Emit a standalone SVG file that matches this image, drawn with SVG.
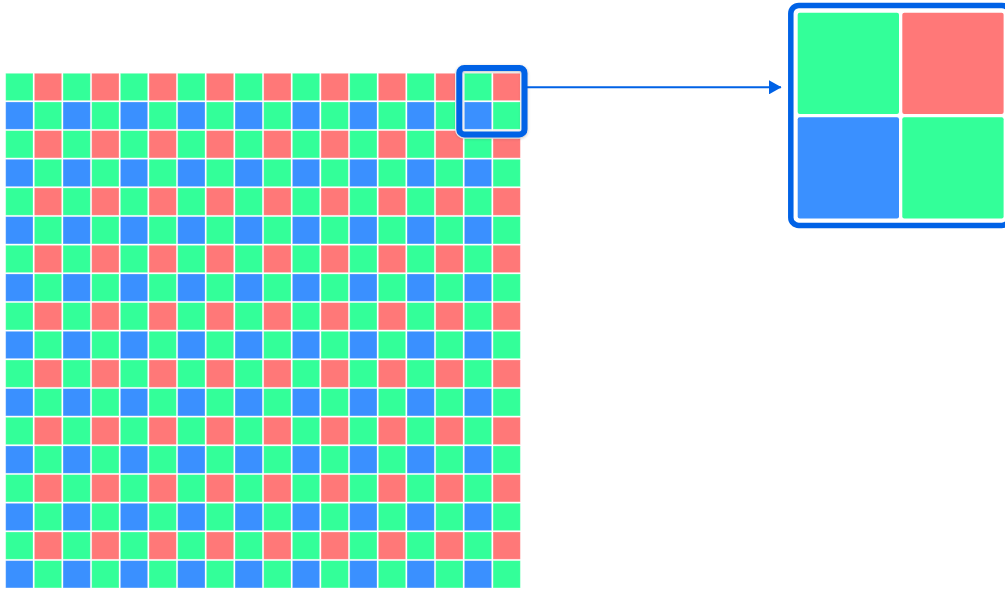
<svg xmlns="http://www.w3.org/2000/svg" xmlns:xlink="http://www.w3.org/1999/xlink" width="1005" height="589" viewBox="0 0 1005 589">
<style>
.g{fill:#33FF99}
.r{fill:#FF7878}
.b{fill:#3A90FF}
.c{stroke:#ffffff;stroke-opacity:0.35;stroke-width:0.8}
.frame{fill:none;stroke:#0062E6;stroke-width:5.5}
.hl{fill:none;stroke:#0062E6;stroke-width:6}
.link{fill:none;stroke:#0062E6;stroke-width:2}
</style>
<defs>
<g id="t">
<rect class="g c" x="0" y="0" width="27.3" height="27.3"/>
<rect class="r c" x="28.67" y="0" width="27.3" height="27.3"/>
<rect class="b c" x="0" y="28.67" width="27.3" height="27.3"/>
<rect class="g c" x="28.67" y="28.67" width="27.3" height="27.3"/>
</g>
<marker id="ah" markerUnits="userSpaceOnUse" markerWidth="13" markerHeight="14" refX="12" refY="7" orient="auto">
<path d="M0,0 L12.5,7 L0,14 Z" fill="#0062E6"/>
</marker>
<filter id="sh" x="-20%" y="-20%" width="140%" height="140%">
<feDropShadow dx="0" dy="1" stdDeviation="1.5" flood-color="#333333" flood-opacity="0.3"/>
</filter>
</defs>
<g id="grid">
<use href="#t" x="5.7" y="73.3"/><use href="#t" x="63.03" y="73.3"/><use href="#t" x="120.37" y="73.3"/><use href="#t" x="177.7" y="73.3"/><use href="#t" x="235.03" y="73.3"/><use href="#t" x="292.37" y="73.3"/><use href="#t" x="349.7" y="73.3"/><use href="#t" x="407.03" y="73.3"/><use href="#t" x="464.37" y="73.3"/>
<use href="#t" x="5.7" y="130.63"/><use href="#t" x="63.03" y="130.63"/><use href="#t" x="120.37" y="130.63"/><use href="#t" x="177.7" y="130.63"/><use href="#t" x="235.03" y="130.63"/><use href="#t" x="292.37" y="130.63"/><use href="#t" x="349.7" y="130.63"/><use href="#t" x="407.03" y="130.63"/><use href="#t" x="464.37" y="130.63"/>
<use href="#t" x="5.7" y="187.97"/><use href="#t" x="63.03" y="187.97"/><use href="#t" x="120.37" y="187.97"/><use href="#t" x="177.7" y="187.97"/><use href="#t" x="235.03" y="187.97"/><use href="#t" x="292.37" y="187.97"/><use href="#t" x="349.7" y="187.97"/><use href="#t" x="407.03" y="187.97"/><use href="#t" x="464.37" y="187.97"/>
<use href="#t" x="5.7" y="245.3"/><use href="#t" x="63.03" y="245.3"/><use href="#t" x="120.37" y="245.3"/><use href="#t" x="177.7" y="245.3"/><use href="#t" x="235.03" y="245.3"/><use href="#t" x="292.37" y="245.3"/><use href="#t" x="349.7" y="245.3"/><use href="#t" x="407.03" y="245.3"/><use href="#t" x="464.37" y="245.3"/>
<use href="#t" x="5.7" y="302.63"/><use href="#t" x="63.03" y="302.63"/><use href="#t" x="120.37" y="302.63"/><use href="#t" x="177.7" y="302.63"/><use href="#t" x="235.03" y="302.63"/><use href="#t" x="292.37" y="302.63"/><use href="#t" x="349.7" y="302.63"/><use href="#t" x="407.03" y="302.63"/><use href="#t" x="464.37" y="302.63"/>
<use href="#t" x="5.7" y="359.97"/><use href="#t" x="63.03" y="359.97"/><use href="#t" x="120.37" y="359.97"/><use href="#t" x="177.7" y="359.97"/><use href="#t" x="235.03" y="359.97"/><use href="#t" x="292.37" y="359.97"/><use href="#t" x="349.7" y="359.97"/><use href="#t" x="407.03" y="359.97"/><use href="#t" x="464.37" y="359.97"/>
<use href="#t" x="5.7" y="417.3"/><use href="#t" x="63.03" y="417.3"/><use href="#t" x="120.37" y="417.3"/><use href="#t" x="177.7" y="417.3"/><use href="#t" x="235.03" y="417.3"/><use href="#t" x="292.37" y="417.3"/><use href="#t" x="349.7" y="417.3"/><use href="#t" x="407.03" y="417.3"/><use href="#t" x="464.37" y="417.3"/>
<use href="#t" x="5.7" y="474.63"/><use href="#t" x="63.03" y="474.63"/><use href="#t" x="120.37" y="474.63"/><use href="#t" x="177.7" y="474.63"/><use href="#t" x="235.03" y="474.63"/><use href="#t" x="292.37" y="474.63"/><use href="#t" x="349.7" y="474.63"/><use href="#t" x="407.03" y="474.63"/><use href="#t" x="464.37" y="474.63"/>
<use href="#t" x="5.7" y="531.97"/><use href="#t" x="63.03" y="531.97"/><use href="#t" x="120.37" y="531.97"/><use href="#t" x="177.7" y="531.97"/><use href="#t" x="235.03" y="531.97"/><use href="#t" x="292.37" y="531.97"/><use href="#t" x="349.7" y="531.97"/><use href="#t" x="407.03" y="531.97"/><use href="#t" x="464.37" y="531.97"/>
</g>
<g id="highlight">
<rect x="459.3" y="68" width="65.2" height="66.4" rx="5" fill="none" stroke="#ffffff" stroke-width="8.5"/>
<rect class="hl" x="459.3" y="68" width="65.2" height="66.4" rx="5" filter="url(#sh)"/>
</g>
<g id="connectors">
<line class="link" x1="527" y1="87.3" x2="781" y2="87.3" marker-end="url(#ah)"/>
</g>
<g id="zoom">
<rect x="790.8" y="5.4" width="219" height="220" rx="8" fill="#ffffff"/>
<rect class="g" x="797.7" y="12.7" width="101.3" height="101.3" rx="2"/>
<rect class="r" x="902.3" y="12.7" width="101.3" height="101.3" rx="2"/>
<rect class="b" x="797.7" y="117.3" width="101.3" height="101.3" rx="2"/>
<rect class="g" x="902.3" y="117.3" width="101.3" height="101.3" rx="2"/>
<rect class="frame" x="790.8" y="5.4" width="219" height="220" rx="8"/>
</g>
</svg>
